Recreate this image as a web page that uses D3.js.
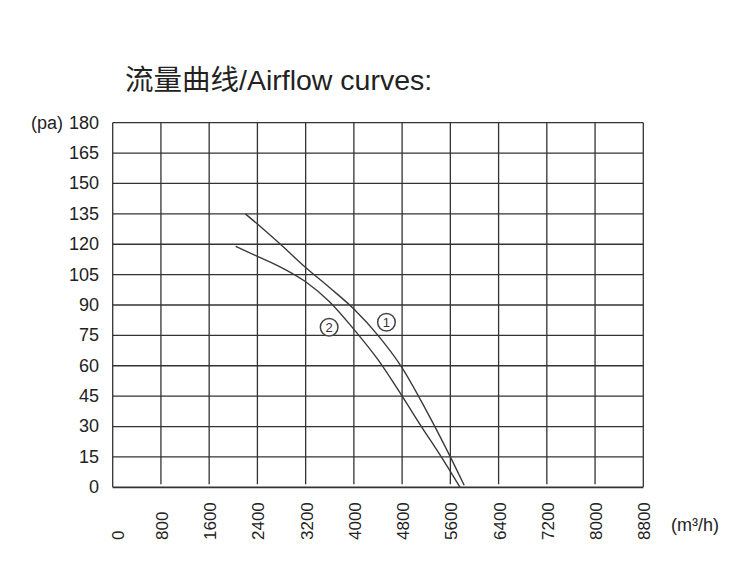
<!DOCTYPE html>
<html>
<head>
<meta charset="utf-8">
<script src="https://cdn.jsdelivr.net/npm/d3@7"></script>
<style>
  html, body { margin: 0; padding: 0; background: #fff; }
  svg text { font-family: "Liberation Sans", Arial, "Noto Sans CJK SC", sans-serif; fill: #222; }
</style>
</head>
<body>
<svg id="chart" width="750" height="574"></svg>
<script>
// ---- data ----
const titleText = "流量曲线/Airflow curves:";
const xTicks = [0, 800, 1600, 2400, 3200, 4000, 4800, 5600, 6400, 7200, 8000, 8800];
const yTicks = [0, 15, 30, 45, 60, 75, 90, 105, 120, 135, 150, 165, 180];
const xUnit = "(m³/h)";
const yUnit = "(pa)";
// airflow (m³/h) vs pressure (pa)
const curve1X = [2200, 2400, 2800, 3200, 3600, 4000, 4400, 4800, 5200, 5600, 5830];
const curve1Y = [135, 130, 119.5, 108.5, 98.5, 88, 75, 59, 38, 15, 1];
const curve2X = [2040, 2400, 2800, 3200, 3600, 4000, 4400, 4800, 5120, 5450, 5760];
const curve2Y = [119, 114, 108.5, 101.5, 91.5, 78, 63, 45, 30, 15, 0];
const curveLabels = ["1", "2"];
const labelX = [4540, 3590];
const labelY = [81.5, 79];

// ---- drawing ----
const svg = d3.select("#chart");
const x = d3.scaleLinear().domain([0, 8800]).range([112.7, 643.3]);
const y = d3.scaleLinear().domain([0, 180]).range([487.3, 122.7]);
const gridColor = "#333";

// title
svg.append("text")
  .attr("x", 125).attr("y", 90)
  .style("font-size", "28.5px")
  .text(titleText);

const g = svg.append("g");

// horizontal grid lines
g.selectAll("line.h").data(yTicks).enter().append("line")
  .attr("class", "h")
  .attr("x1", x(0)).attr("x2", x(8800))
  .attr("y1", d => y(d)).attr("y2", d => y(d))
  .attr("stroke", gridColor)
  .attr("stroke-width", d => d === 0 ? 1.7 : 1.3);

// vertical grid lines
g.selectAll("line.v").data(xTicks).enter().append("line")
  .attr("class", "v")
  .attr("x1", d => x(d)).attr("x2", d => x(d))
  .attr("y1", y(180))
  .attr("y2", d => (d === 0 || d === 8800) ? y(0) : y(0) - 3)
  .attr("stroke", gridColor)
  .attr("stroke-width", 1.3);

// y tick labels
svg.selectAll("text.yt").data(yTicks).enter().append("text")
  .attr("class", "yt")
  .attr("x", 99).attr("y", d => y(d))
  .attr("dy", "0.33em")
  .attr("text-anchor", "end")
  .style("font-size", "18px")
  .text(d => d);

svg.append("text")
  .attr("x", 63).attr("y", y(180))
  .attr("dy", "0.33em")
  .attr("text-anchor", "end")
  .style("font-size", "18px")
  .text(yUnit);

// x tick labels (rotated)
svg.selectAll("text.xt").data(xTicks).enter().append("text")
  .attr("class", "xt")
  .attr("transform", (d, i) => `translate(${x(d) + (i === 0 ? 5.5 : 1)},540) rotate(-90)`)
  .attr("dy", "0.35em")
  .attr("text-anchor", "start")
  .style("font-size", "17px")
  .text(d => d);

svg.append("text")
  .attr("x", 671).attr("y", 531)
  .style("font-size", "18px")
  .text(xUnit);

// curves
const line = d3.line()
  .x(d => x(d[0])).y(d => y(d[1]))
  .curve(d3.curveMonotoneX);

[[curve1X, curve1Y], [curve2X, curve2Y]].forEach(([xs, ys]) => {
  svg.append("path")
    .datum(xs.map((v, i) => [v, ys[i]]))
    .attr("d", line)
    .attr("fill", "none")
    .attr("stroke", "#3a3a3a")
    .attr("stroke-width", 1.4);
});

// circled labels
const lab = svg.selectAll("g.lab").data(curveLabels).enter().append("g")
  .attr("class", "lab")
  .attr("transform", (d, i) => `translate(${x(labelX[i])},${y(labelY[i])})`);
lab.append("circle")
  .attr("r", 8.8)
  .attr("fill", "#fff")
  .attr("stroke", "#444")
  .attr("stroke-width", 1.5);
lab.append("text")
  .attr("text-anchor", "middle")
  .attr("dy", "0.36em")
  .style("font-size", "13px")
  .style("fill", "#333")
  .text(d => d);
</script>
</body>
</html>
